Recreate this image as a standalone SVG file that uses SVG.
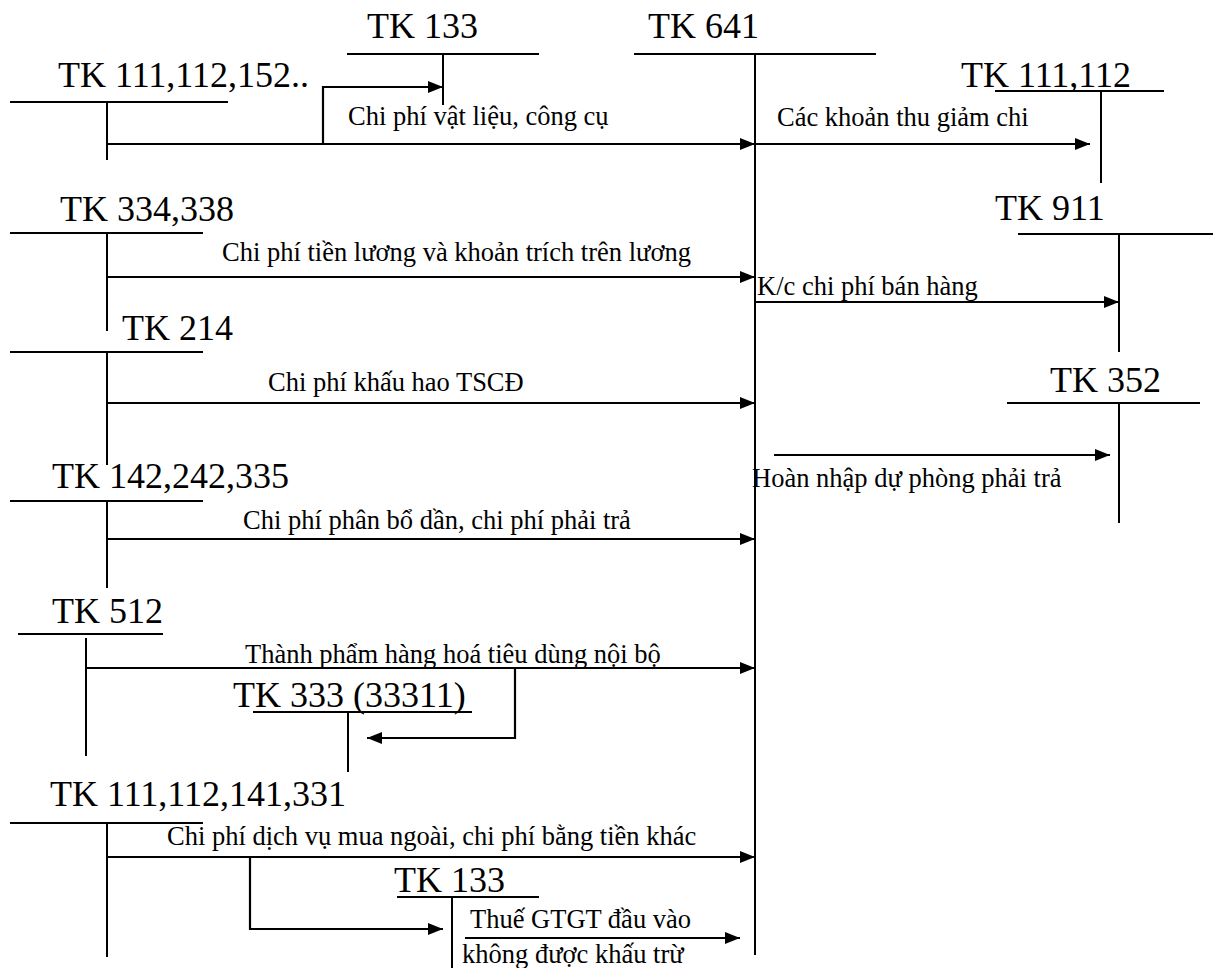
<svg xmlns="http://www.w3.org/2000/svg" width="1213" height="968" viewBox="0 0 1213 968">
  <style>
    .bg { fill: #ffffff; }
    .acct { stroke: #000; stroke-width: 2; fill: none; }
    .flow { stroke: #000; stroke-width: 2.2; fill: none; }
    .head { font-family: "Liberation Serif", "Times New Roman", serif; font-size: 36px; fill: #000; }
    .lbl { font-family: "Liberation Serif", "Times New Roman", serif; font-size: 26.5px; fill: #000; }
  </style>
  <defs>
    <marker id="arrow" markerUnits="userSpaceOnUse" markerWidth="16" markerHeight="14" viewBox="0 0 16 14" refX="15" refY="7" orient="auto">
      <path d="M0,1 L15,7 L0,13 z" fill="#000"/>
    </marker>
  </defs>

  <rect class="bg" x="0" y="0" width="1213" height="968"/>

  <!-- T-accounts -->
  <g id="tk133-top">
    <text class="head" x="367" y="38">TK 133</text>
    <path class="acct" d="M347,54 H539 M443,54 V105"/>
  </g>
  <g id="tk641">
    <text class="head" x="648" y="38">TK 641</text>
    <path class="acct" d="M634,54 H876 M755,54 V955"/>
  </g>
  <g id="tk111-112-152">
    <text class="head" x="58" y="87">TK 111,112,152..</text>
    <path class="acct" d="M10,102 H228 M107,102 V160"/>
  </g>
  <g id="tk111-112-right">
    <text class="head" x="961" y="87">TK 111,112</text>
    <path class="acct" d="M995,91 H1164 M1101,91 V183"/>
  </g>
  <g id="tk334-338">
    <text class="head" x="60" y="221">TK 334,338</text>
    <path class="acct" d="M10,233 H203 M107,233 V331"/>
  </g>
  <g id="tk911">
    <text class="head" x="995" y="220">TK 911</text>
    <path class="acct" d="M1018,234 H1213 M1119,234 V352"/>
  </g>
  <g id="tk214">
    <text class="head" x="122" y="340">TK 214</text>
    <path class="acct" d="M10,352 H203 M107,352 V465"/>
  </g>
  <g id="tk352">
    <text class="head" x="1050" y="392">TK 352</text>
    <path class="acct" d="M1007,403 H1200 M1119,403 V523"/>
  </g>
  <g id="tk142-242-335">
    <text class="head" x="52" y="488">TK 142,242,335</text>
    <path class="acct" d="M10,501 H203 M107,501 V588"/>
  </g>
  <g id="tk512">
    <text class="head" x="52" y="623">TK 512</text>
    <path class="acct" d="M18,634 H163 M86,638 V756"/>
  </g>
  <g id="tk333">
    <text class="head" x="233" y="707">TK 333 (33311)</text>
    <path class="acct" d="M253,712 H472 M348,712 V772"/>
  </g>
  <g id="tk111-112-141-331">
    <text class="head" x="50" y="806">TK 111,112,141,331</text>
    <path class="acct" d="M10,823 H203 M107,823 V957"/>
  </g>
  <g id="tk133-bottom">
    <text class="head" x="394" y="892">TK 133</text>
    <path class="acct" d="M397,897 H539 M452,897 V968"/>
  </g>

  <!-- Connectors -->
  <g id="connectors">
    <path class="flow" d="M107,144 H755" marker-end="url(#arrow)"/>
    <path class="flow" d="M323,144 V87 H443" marker-end="url(#arrow)"/>
    <path class="flow" d="M755,144 H1090" marker-end="url(#arrow)"/>
    <path class="flow" d="M107,277 H755" marker-end="url(#arrow)"/>
    <path class="flow" d="M755,302 H1119" marker-end="url(#arrow)"/>
    <path class="flow" d="M107,403 H755" marker-end="url(#arrow)"/>
    <path class="flow" d="M774,455 H1110" marker-end="url(#arrow)"/>
    <path class="flow" d="M107,539 H755" marker-end="url(#arrow)"/>
    <path class="flow" d="M86,668 H755" marker-end="url(#arrow)"/>
    <path class="flow" d="M515,668 V738 H367" marker-end="url(#arrow)"/>
    <path class="flow" d="M107,857 H755" marker-end="url(#arrow)"/>
    <path class="flow" d="M250,857 V929 H443" marker-end="url(#arrow)"/>
    <path class="flow" d="M465,938 H740" marker-end="url(#arrow)"/>
  </g>

  <!-- Connector labels -->
  <g id="labels">
    <text class="lbl" x="348" y="125">Chi phí vật liệu, công cụ</text>
    <text class="lbl" x="777" y="126">Các khoản thu giảm chi</text>
    <text class="lbl" x="222" y="261">Chi phí tiền lương và khoản trích trên lương</text>
    <text class="lbl" x="757" y="295">K/c chi phí bán hàng</text>
    <text class="lbl" x="268" y="391">Chi phí khấu hao TSCĐ</text>
    <text class="lbl" x="752" y="487">Hoàn nhập dự phòng phải trả</text>
    <text class="lbl" x="243" y="529">Chi phí phân bổ dần, chi phí phải trả</text>
    <text class="lbl" x="245" y="663">Thành phẩm hàng hoá tiêu dùng nội bộ</text>
    <text class="lbl" x="167" y="845">Chi phí dịch vụ mua ngoài, chi phí bằng tiền khác</text>
    <text class="lbl" x="470" y="928">Thuế GTGT đầu vào</text>
    <text class="lbl" x="462" y="963">không được khấu trừ</text>
  </g>
</svg>
